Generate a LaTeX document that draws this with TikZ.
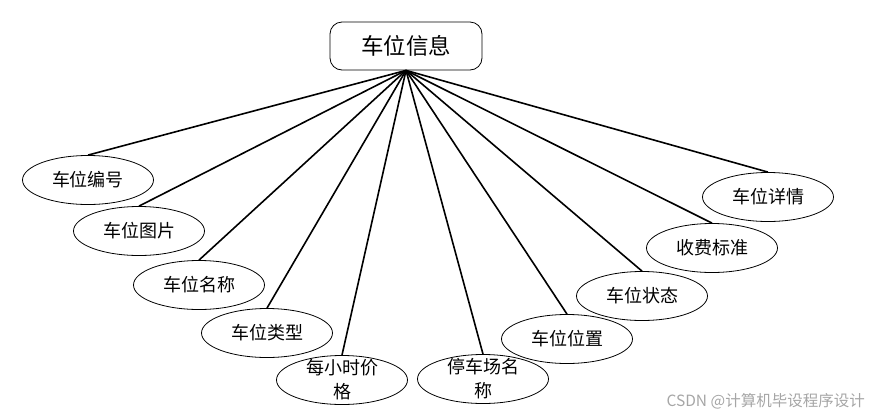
\documentclass[tikz,border=0pt]{standalone}
\usepackage{fontspec}
\newfontfamily\cjk{Noto Sans CJK SC}
\usetikzlibrary{shapes.geometric}
\tikzset{
  rootbox/.style={draw=black, line width=0.8pt, rounded corners=12pt, minimum width=152pt, minimum height=48pt, inner sep=0pt, font=\cjk\fontsize{22.5}{26}\selectfont},
  attr/.style={draw=black, line width=0.8pt, ellipse, minimum width=131pt, minimum height=49pt, inner sep=0pt},
  attrtext/.style={font=\cjk\fontsize{18}{24}\selectfont, align=center, inner sep=0pt},
  link/.style={line width=1.6pt, black},
  wm/.style={font=\cjk\fontsize{15.5}{18}\selectfont, text=black!35, inner sep=0pt}
}
\begin{document}
\begin{tikzpicture}[x=1pt,y=-1pt]
\useasboundingbox (0,0) rectangle (871,416);
\node[rootbox] (root) at (406,46) {车位信息};

\node[attr] (a1) at (88,180) {};
\node[attr] (a2) at (139,231) {};
\node[attr] (a3) at (199,285) {};
\node[attr] (a4) at (267,333) {};
\node[attr] (a5) at (342,380) {};
\node[attr] (a6) at (483,379) {};
\node[attr] (a7) at (567,339) {};
\node[attr] (a8) at (642,296) {};
\node[attr] (a9) at (712,248) {};
\node[attr] (a10) at (768,197) {};

\node[attrtext] (t1) at (a1) {车位编号};
\node[attrtext] (t2) at (a2) {车位图片};
\node[attrtext] (t3) at (a3) {车位名称};
\node[attrtext] (t4) at (a4) {车位类型};
\node[attrtext] (t5) at (a5) {每小时价\\格};
\node[attrtext] (t6) at (a6) {停车场名\\称};
\node[attrtext] (t7) at (a7) {车位位置};
\node[attrtext] (t8) at (a8) {车位状态};
\node[attrtext] (t9) at (a9) {收费标准};
\node[attrtext] (t10) at (a10) {车位详情};

\foreach \i in {1,...,10} {
  \draw[link] (root.south) -- (a\i.north);
}

\node[wm, anchor=east] (wm) at (865,401) {CSDN @计算机毕设程序设计};
\end{tikzpicture}
\end{document}
